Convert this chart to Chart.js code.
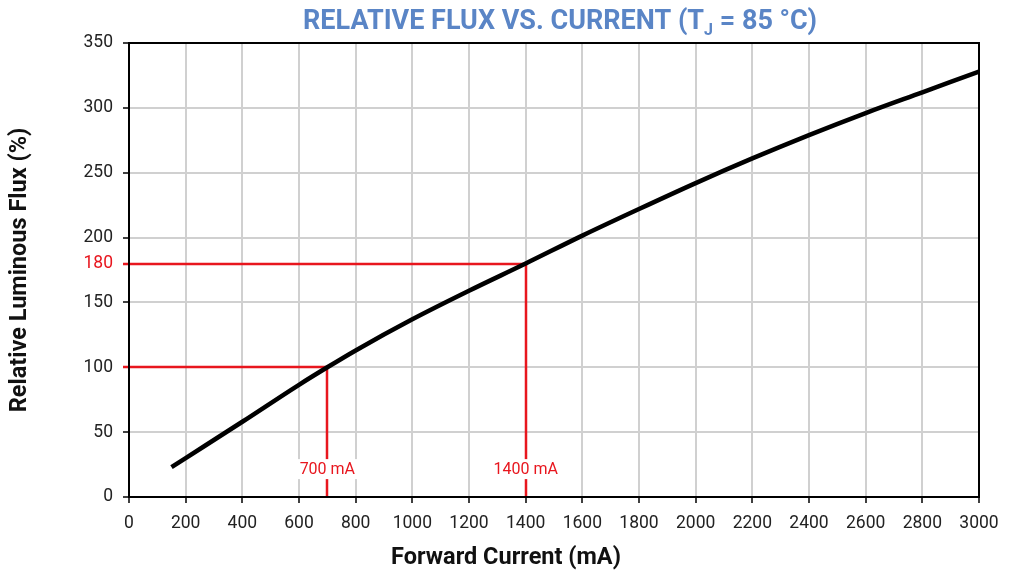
<!DOCTYPE html>
<html>
<head>
<meta charset="utf-8">
<script src="https://cdn.jsdelivr.net/npm/chart.js@4/dist/chart.umd.min.js"></script>
<style>
  html, body { margin: 0; padding: 0; background: #fff; }
  #wrap { width: 1015px; height: 581px; }
</style>
</head>
<body>
<div id="wrap"><canvas id="chart" width="1015" height="581"></canvas></div>
<script>
// forward current (mA) and relative flux (%)
const currents = [150, 200, 400, 600, 700, 800, 1000, 1200, 1400, 1600, 1800, 2000, 2200, 2400, 2600, 2800, 3000];
const fluxValues = [23, 30, 58, 86.5, 100, 113, 137, 159, 180, 201.5, 222, 242, 261, 279, 296, 312, 328];

// marked operating points
const markCurrents = [700, 1400];
const markFlux = [100, 180];
const markLabels = ['700 mA', '1400 mA'];
const markLabelFlux = 21.5;

const RED = '#e8161e';
const FONT = 'Roboto, "Liberation Sans", sans-serif';

const curveData = currents.map((c, i) => ({ x: c, y: fluxValues[i] }));

const markPlugin = {
    id: 'marks',
    beforeDatasetsDraw(chart) {
        const { ctx, chartArea, scales } = chart;
        const xs = scales.x, ys = scales.y;
        ctx.save();
        ctx.strokeStyle = RED;
        ctx.lineWidth = 2.5;
        markCurrents.forEach((c, i) => {
            const px = Math.round(xs.getPixelForValue(c));
            const py = Math.round(ys.getPixelForValue(markFlux[i]));
            ctx.beginPath();
            ctx.moveTo(chartArea.left - 6, py);
            ctx.lineTo(px, py);
            ctx.lineTo(px, ys.getPixelForValue(0));
            ctx.stroke();
        });
        ctx.font = '16px ' + FONT;
        ctx.textAlign = 'center';
        ctx.textBaseline = 'middle';
        markCurrents.forEach((c, i) => {
            const px = xs.getPixelForValue(c);
            const py = ys.getPixelForValue(markLabelFlux);
            const w = ctx.measureText(markLabels[i]).width;
            ctx.fillStyle = '#fff';
            ctx.fillRect(px - w / 2 - 2, py - 10, w + 4, 20);
            ctx.fillStyle = RED;
            ctx.fillText(markLabels[i], px, py + 1);
        });
        ctx.restore();
    },
    afterDraw(chart) {
        const { ctx, chartArea } = chart;
        ctx.save();
        // frame
        ctx.strokeStyle = '#000';
        ctx.lineWidth = 2;
        ctx.strokeRect(chartArea.left, chartArea.top, chartArea.right - chartArea.left, chartArea.bottom - chartArea.top);
        // x axis title (sits left of the plot centre in the original)
        ctx.fillStyle = '#111';
        ctx.font = 'bold 23.5px ' + FONT;
        ctx.textAlign = 'center';
        ctx.textBaseline = 'middle';
        ctx.fillText('Forward Current (mA)', 506, 558);
        // title with subscript
        ctx.fillStyle = '#5a85c6';
        ctx.textAlign = 'left';
        ctx.textBaseline = 'alphabetic';
        const big = 'bold 27px ' + FONT, small = 'bold 16px ' + FONT;
        const parts = [['RELATIVE FLUX VS. CURRENT (T', big, 0], ['J', small, 6], [' = 85 °C)', big, 0]];
        let total = 0;
        parts.forEach(p => { ctx.font = p[1]; total += ctx.measureText(p[0]).width; });
        let x = 560 - total / 2;
        parts.forEach(p => {
            ctx.font = p[1];
            ctx.fillText(p[0], x, 29 + p[2]);
            x += ctx.measureText(p[0]).width;
        });
        ctx.restore();
    }
};

new Chart(document.getElementById('chart'), {
    type: 'line',
    data: {
        datasets: [{
            data: curveData,
            borderColor: '#000',
            borderWidth: 4.5,
            pointRadius: 0,
            cubicInterpolationMode: 'monotone',
            fill: false
        }]
    },
    options: {
        responsive: false,
        animation: false,
        layout: { padding: { top: 43, right: 36, left: 6, bottom: 0 } },
        plugins: {
            legend: { display: false },
            tooltip: { enabled: false }
        },
        scales: {
            x: {
                type: 'linear',
                min: 0,
                max: 3000,
                afterFit(s) { s.height = 84; },
                ticks: {
                    stepSize: 200,
                    color: '#222',
                    font: { family: FONT, size: 17.5 },
                    padding: 10,
                    maxRotation: 0,
                    callback: v => String(v)
                },
                grid: { color: '#d0d0d0', lineWidth: 2, tickColor: '#000', tickLength: 6, tickWidth: 1.5 },
                border: { color: '#000', width: 2 },
                title: { display: false }
            },
            y: {
                min: 0,
                max: 350,
                afterFit(s) { s.width = 123; },
                afterBuildTicks(s) {
                    const t = [];
                    for (let v = 0; v <= 350; v += 50) t.push({ value: v });
                    markFlux.forEach(v => { if (v % 50) t.push({ value: v }); });
                    t.sort((a, b) => a.value - b.value);
                    s.ticks = t;
                },
                ticks: {
                    color: c => (c.tick && c.tick.value % 50 ? RED : '#222'),
                    font: { family: FONT, size: 17.5 },
                    padding: 10
                },
                grid: {
                    color: c => (c.tick && c.tick.value % 50 ? 'rgba(0,0,0,0)' : '#d0d0d0'),
                    tickColor: c => (c.tick && c.tick.value % 50 ? RED : '#000'),
                    lineWidth: 2,
                    tickLength: 6,
                    tickWidth: 1.5
                },
                border: { color: '#000', width: 2 },
                title: { display: true, text: 'Relative Luminous Flux (%)', color: '#111', font: { family: FONT, size: 23.5, weight: 'bold' }, padding: { top: 0, bottom: 4 } }
            }
        }
    },
    plugins: [markPlugin]
});
</script>
</body>
</html>
